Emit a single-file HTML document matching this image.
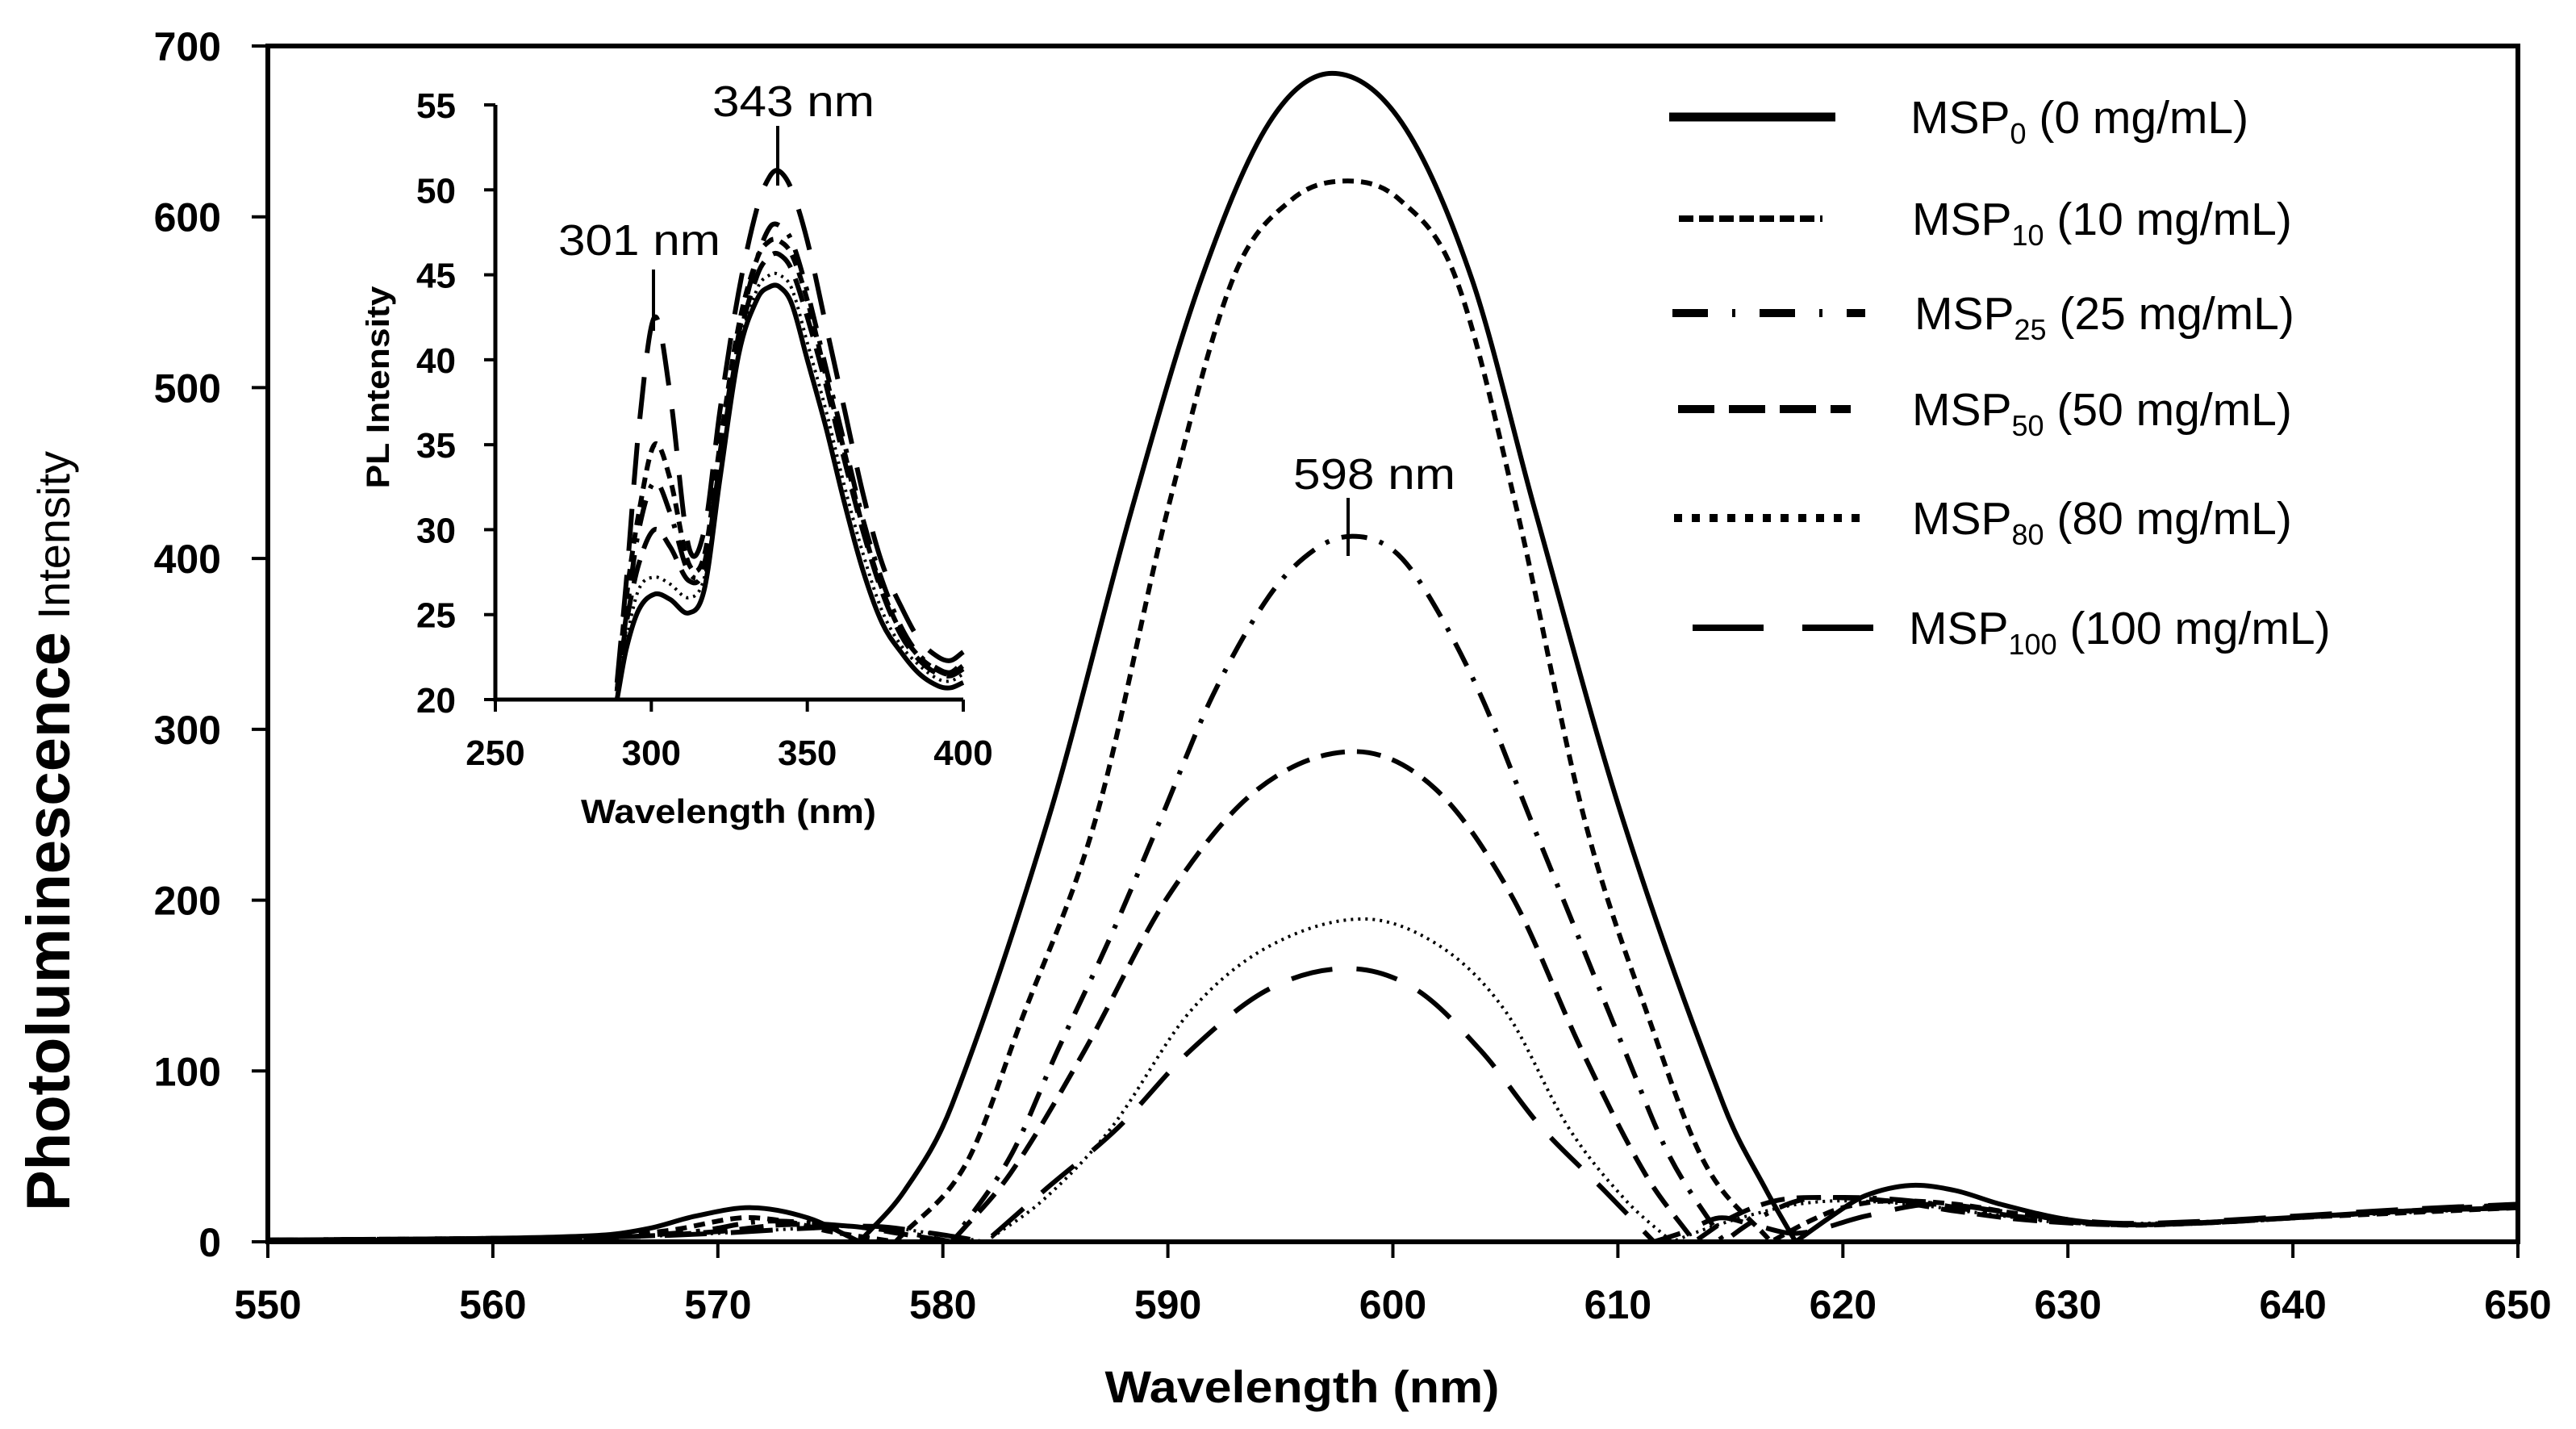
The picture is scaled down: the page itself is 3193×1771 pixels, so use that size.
<!DOCTYPE html>
<html><head><meta charset="utf-8"><style>
html,body{margin:0;padding:0;background:#fff}
svg{display:block}
text{font-family:"Liberation Sans",sans-serif;fill:#000}
</style></head><body>
<svg id="chart" width="3193" height="1771" viewBox="0 0 3193 1771" xmlns="http://www.w3.org/2000/svg">
<g id="main-axes"></g>
<g id="main-series"></g>
<g id="inset"></g>
<g id="legend"></g>
<text transform="translate(86,1030) rotate(-90)" text-anchor="middle"><tspan font-weight="bold" font-size="76">Photoluminescence</tspan><tspan font-size="56"> Intensity</tspan></text>
<text x="1614" y="1738" text-anchor="middle" font-weight="bold" font-size="56" textLength="489" lengthAdjust="spacingAndGlyphs">Wavelength  (nm)</text>
<text x="1603" y="606" font-size="54" textLength="201" lengthAdjust="spacingAndGlyphs">598 nm</text>
<line x1="1671" y1="617" x2="1671" y2="689" stroke="#000" stroke-width="4"/>
<text x="883" y="144" font-size="54" textLength="201" lengthAdjust="spacingAndGlyphs">343 nm</text>
<line x1="964" y1="156" x2="964" y2="230" stroke="#000" stroke-width="4"/>
<text x="692" y="316" font-size="54" textLength="201" lengthAdjust="spacingAndGlyphs">301 nm</text>
<line x1="810" y1="334" x2="810" y2="410" stroke="#000" stroke-width="4"/>
</svg>
<script>
// ---------- main chart data ----------
const xTicks = [550,560,570,580,590,600,610,620,630,640,650];
const yTicks = [0,100,200,300,400,500,600,700];
const seriesNames = ['MSP0','MSP10','MSP25','MSP50','MSP80','MSP100'];
const msp0X = [550,555,560,565,567,569,571.5,574,576.3,578.3,580.4,584.7,588.4,591.5,594.5,597.3,600.4,603.5,606.3,610.2,614.7,616.6,617.9,619.5,621,623,625,627,630,633,637,641,645,650];
const msp0Y = [1,1,2,4,8,15,20,14,0,30,80,248,429,564,655,684,655,564,429,248,80,30,0,15,27,33,30,22,13,10,12,15,18,20];
const msp10X = [550,560,565,568,571,573,575,577.9,581,583.5,586.8,590,592.9,595.5,598,600.3,602.8,605.5,608.5,611.4,613.9,616.8,618.5,620,622,625,628,632,636,640,645,650];
const msp10Y = [1,2,3,7,14,12,6,0,45,130,248,429,564,610,621,610,564,429,248,130,45,0,12,20,24,22,16,10,11,14,17,20];
const msp25X = [550,560,565,569,572,575,578,580.4,583,585.1,587.5,589.7,592,594.5,596.5,598.2,600,601.6,603.9,606.1,608.2,610.3,612.3,614.7,616,618,620,623,626,629,632,636,640,645,650];
const msp25Y = [1,2,3,6,12,10,6,0,50,112,180,248,320,378,405,413,405,378,320,248,180,112,50,0,12,24,26,24,18,13,10,11,14,18,21];
const msp50X = [550,560,566,570,573,576,578,580.4,583,586.3,590,594,598.3,601.9,605.3,608.4,611.2,613.4,615,617,619,622,625,628,632,636,640,645,650];
const msp50Y = [1,2,3,6,10,9,5,0,40,112,202,265,287,265,202,112,40,0,14,24,26,24,18,13,10,11,14,18,22];
const msp80X = [550,560,566,570,574,577,579.5,581.9,584.5,587.5,591,594.5,598.7,602.1,605,607.8,610.3,612.4,614,616,618,620,623,626,630,634,640,645,650];
const msp80Y = [1,2,3,5,8,9,5,0,25,67,135,173,189,173,135,67,25,0,8,16,22,24,22,17,11,11,14,17,20];
const msp100X = [550,560,566,570,574,577,579.5,581.9,584.5,587.8,591,594.5,598,601,603.9,606.6,609.4,611.6,613,614.5,616,618,621,624,628,632,636,640,645,650];
const msp100Y = [1,2,3,5,8,9,5,0,30,67,112,148,160,148,112,67,30,0,6,14,10,5,15,22,16,11,12,15,19,22];
// ---------- inset data ----------
const insetXTicks = [250,300,350,400];
const insetYTicks = [20,25,30,35,40,45,50,55];
const insetX = [289,292,296,301,306,312,317,322,328,334,338,341,345,350,356,362,368,374,380,386,392,396,400];
const insetMsp0 = [20,23,25.3,26.2,25.9,25.1,26.5,33,40.3,43.6,44.3,44.3,43.3,40,36,31.5,27.5,24.5,22.8,21.5,20.8,20.7,21];
const insetMsp10 = [20.5,26,31,35,33,28,28.5,35,42,46,47,47,46.2,43.5,39,34.5,30,26.5,24,22.5,21.7,21.5,22];
const insetMsp25 = [20.5,25,30,32.8,31,27.5,28,34.5,41.5,46,47.8,47.9,47,44,39.5,35,30.5,27,24.3,22.6,21.8,21.6,22.2];
const insetMsp50 = [20.5,24.5,28,30,29,27,27.8,34,41,45,46.1,46.2,45.3,42.5,38.5,34,29.8,26.3,23.8,22.3,21.5,21.4,21.8];
const insetMsp80 = [20.3,23.5,26.5,27.2,26.8,26,27.2,33,40.5,44.2,45,45,44.2,41,37,32.5,28.5,25.2,23.2,22,21.2,21.1,21.5];
const insetMsp100 = [21,27,36,42.5,38,29,30,37,44,49,50.8,51.1,50,47,42,37,32,28,25.5,23.5,22.5,22.3,22.8];

const NS='http://www.w3.org/2000/svg';
function mk(tag,attrs,parent){const e=document.createElementNS(NS,tag);for(const k in attrs)e.setAttribute(k,attrs[k]);parent.appendChild(e);return e;}

const X0=332,X1=3121,Y0=1539,Y1=57;
const sx=v=>X0+(v-550)/(650-550)*(X1-X0);
const sy=v=>Y0-(v-0)/(700-0)*(Y0-Y1);
const IX0=614,IX1=1194,IY0=867,IY1=130;
const isx=v=>IX0+(v-250)/150*(IX1-IX0);
const isy=v=>IY0-(v-20)/35*(IY0-IY1);

function smoothPath(xs,ys,fx,fy,ymin,ymax){
  const n=xs.length;
  const m=[];
  for(let i=0;i<n;i++){
    if(i===0) m.push((ys[1]-ys[0])/(xs[1]-xs[0]));
    else if(i===n-1) m.push((ys[n-1]-ys[n-2])/(xs[n-1]-xs[n-2]));
    else {
      const d0=(ys[i]-ys[i-1])/(xs[i]-xs[i-1]), d1=(ys[i+1]-ys[i])/(xs[i+1]-xs[i]);
      if(ys[i]<=ymin+0.001 && d0<0 && d1>0) m.push(NaN);
      else m.push((ys[i+1]-ys[i-1])/(xs[i+1]-xs[i-1]));
    }
  }
  const cl=v=>Math.max(ymin,Math.min(ymax,v));
  let d='M'+fx(xs[0]).toFixed(1)+','+fy(cl(ys[0])).toFixed(1);
  for(let i=0;i<n-1;i++){
    const h=xs[i+1]-xs[i];
    let m0=m[i], m1=m[i+1];
    if(isNaN(m0)) m0=(ys[i+1]-ys[i])/h;
    if(isNaN(m1)) m1=(ys[i+1]-ys[i])/h;
    const c1x=xs[i]+h/3, c1y=cl(ys[i]+m0*h/3);
    const c2x=xs[i+1]-h/3, c2y=cl(ys[i+1]-m1*h/3);
    d+=' C'+fx(c1x).toFixed(1)+','+fy(c1y).toFixed(1)+' '+fx(c2x).toFixed(1)+','+fy(c2y).toFixed(1)+' '+fx(xs[i+1]).toFixed(1)+','+fy(cl(ys[i+1])).toFixed(1);
  }
  return d;
}

const styles=[
 {w:6,dash:''},{w:6,dash:'14 9'},{w:6,dash:'32 16 5 16'},{w:6,dash:'30 15'},{w:4,dash:'3 6'},{w:6,dash:'52 30'}];

const ax=document.getElementById('main-axes');
const frame=mk('rect',{x:X0,y:Y1,width:X1-X0,height:Y0-Y1,fill:'none',stroke:'#000','stroke-width':6},ax);


xTicks.forEach(t=>{
  const l=mk('line',{x1:sx(t),x2:sx(t),y1:Y0,y2:Y0+20,stroke:'#000','stroke-width':4},ax);
  
  
  const tx=mk('text',{x:sx(t),y:1634,'text-anchor':'middle','font-size':50,'font-weight':'bold'},ax);
  
  
  tx.textContent=t;
});
yTicks.forEach(t=>{
  const l=mk('line',{x1:X0-20,x2:X0,y1:sy(t),y2:sy(t),stroke:'#000','stroke-width':4},ax);
  
  
  const tx=mk('text',{x:274,y:sy(t)+18,'text-anchor':'end','font-size':50,'font-weight':'bold'},ax);
  
  
  tx.textContent=t;
});

const mainX=[msp0X,msp10X,msp25X,msp50X,msp80X,msp100X];
const mainY=[msp0Y,msp10Y,msp25Y,msp50Y,msp80Y,msp100Y];
const ms=document.getElementById('main-series');
for(let s=5;s>=0;s--){
  const p=mk('path',{d:smoothPath(mainX[s],mainY[s],sx,sy,0,700),fill:'none',stroke:'#000','stroke-width':styles[s].w,'stroke-dasharray':styles[s].dash,'stroke-linejoin':'round'},ms);
  
  
}

const ins=document.getElementById('inset');
const iax=mk('path',{d:'M'+IX0+','+IY1+' L'+IX0+','+IY0+' L'+IX1+','+IY0,fill:'none',stroke:'#000','stroke-width':5},ins);


insetXTicks.forEach(t=>{
  const l=mk('line',{x1:isx(t),x2:isx(t),y1:IY0,y2:IY0+15,stroke:'#000','stroke-width':4},ins);
  
  
  const tx=mk('text',{x:isx(t),y:948,'text-anchor':'middle','font-size':44,'font-weight':'bold'},ins);
  
  
  tx.textContent=t;
});
insetYTicks.forEach(t=>{
  const l=mk('line',{x1:IX0-14,x2:IX0,y1:isy(t),y2:isy(t),stroke:'#000','stroke-width':4},ins);
  
  
  const tx=mk('text',{x:565,y:isy(t)+16,'text-anchor':'end','font-size':44,'font-weight':'bold'},ins);
  
  
  tx.textContent=t;
});
const iyt=mk('text',{transform:'translate(482,480) rotate(-90)','text-anchor':'middle','font-size':40,'font-weight':'bold',textLength:251,lengthAdjust:'spacingAndGlyphs'},ins);


iyt.textContent='PL Intensity';
const ixt=mk('text',{x:903,y:1020,'text-anchor':'middle','font-size':42,'font-weight':'bold',textLength:366,lengthAdjust:'spacingAndGlyphs'},ins);


ixt.textContent='Wavelength (nm)';
const insetY=[insetMsp0,insetMsp10,insetMsp25,insetMsp50,insetMsp80,insetMsp100];
for(let s=5;s>=0;s--){
  const p=mk('path',{d:smoothPath(insetX,insetY[s],isx,isy,20,55),fill:'none',stroke:'#000','stroke-width':styles[s].w,'stroke-dasharray':styles[s].dash,'stroke-linejoin':'round'},ins);
  
  
}

const lg=document.getElementById('legend');
const legSubs=['0','10','25','50','80','100'];
const legConc=['0','10','25','50','80','100'];
const legRowY=[145,271,388,507,642,778];
const legX1=[2069,2081,2073,2080,2075,2098];
const legX2=[2275,2259,2312,2294,2316,2322];
const legTextX=[2368,2370,2373,2370,2370,2366];
const legStyles=[{w:11,d:''},{w:8,d:'18 7'},{w:10,d:'44 30 4 30'},{w:10,d:'45 18'},{w:10,d:'10 12'},{w:8,d:'88 48'}];
for(let i=0;i<6;i++){
  const g=mk('g',{},lg);
  
  
  const l=mk('line',{x1:legX1[i],x2:legX2[i],y1:legRowY[i],y2:legRowY[i],stroke:'#000','stroke-width':legStyles[i].w,'stroke-dasharray':legStyles[i].d},g);
  
  
  const t=mk('text',{x:legTextX[i],y:legRowY[i]+20,'font-size':57},g);
  
  
  t.appendChild(document.createTextNode('MSP'));
  const sub=mk('tspan',{'font-size':36,dy:13},t);
  sub.textContent=legSubs[i];
  const rest=mk('tspan',{dy:-13},t);
  rest.textContent=' ('+legConc[i]+' mg/mL)';
}
</script>
</body></html>
